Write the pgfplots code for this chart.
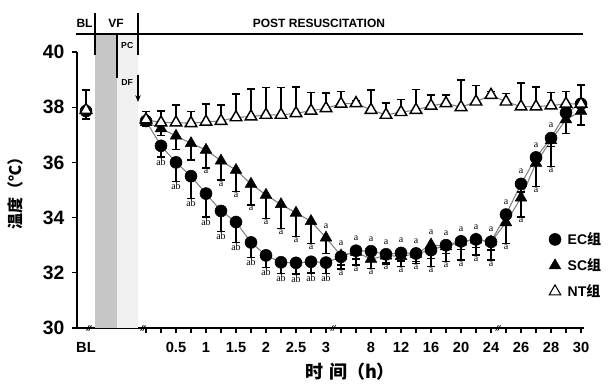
\documentclass[border=0pt]{standalone}
\usepackage{pgfplots}
\pgfplotsset{compat=1.18}
\usepackage{pgfplotstable}
\usepackage{fontspec}
\setmainfont{Liberation Sans}
\newfontfamily\cjk{Noto Sans CJK SC}
\newfontfamily\labserif{Liberation Serif}
\usetikzlibrary{arrows.meta}
\newcommand\labfont{\labserif\fontsize{7.5}{8}\selectfont}

\pgfplotstableread{
x ec ecm sc scm nt ntp
0 37.50 0.15 37.45 0.15 37.55 0.30
1 36.60 0.40 37.23 0.25 37.44 0.42
2 36.00 0.70 36.96 0.50 37.44 0.64
3 35.50 0.80 36.69 0.60 37.42 0.42
4 34.87 0.84 36.45 0.65 37.47 0.65
5 34.24 0.74 36.06 0.70 37.50 0.58
6 33.84 0.74 35.72 0.78 37.63 0.85
7 33.10 0.55 35.22 0.76 37.66 1.00
8 32.63 0.43 34.82 0.85 37.72 1.00
9 32.38 0.40 34.48 0.87 37.72 1.00
10 32.36 0.40 34.17 0.86 37.78 0.96
11 32.40 0.40 33.87 0.80 37.87 0.66
12 32.37 0.40 33.27 0.57 37.96 0.55
13 32.58 0.30 32.62 0.49 38.12 0.44
14 32.80 0.30 32.75 0.47 38.14 0.10
15 32.78 0.30 32.50 0.34 37.90 0.72
16 32.67 0.30 32.62 0.30 37.72 0.44
17 32.72 0.30 32.60 0.38 37.82 0.46
18 32.70 0.30 32.68 0.34 37.90 0.75
19 32.82 0.30 33.02 0.80 38.05 0.39
20 33.00 0.30 32.95 0.55 38.14 0.30
21 33.14 0.30 33.12 0.66 38.00 0.99
22 33.21 0.30 33.20 0.56 38.20 0.58
23 33.12 0.30 33.12 0.66 38.44 0.12
24 34.11 0.30 33.82 0.75 38.20 0.30
25 35.22 0.30 34.72 0.69 38.02 0.85
26 36.18 0.30 35.98 0.86 38.02 0.72
27 36.88 0.30 36.80 0.95 38.06 0.47
28 37.80 0.30 37.55 0.50 38.12 0.44
29 38.12 0.30 37.86 0.50 38.12 0.68
}\maindata

% labels placed at the lower end of the error bars
\pgfplotstableread{
x y l
1 36.20 ab
2 35.30 ab
3 34.70 ab
4 34.03 ab
5 33.50 ab
6 33.10 ab
7 32.55 ab
8 32.20 ab
9 31.98 ab
10 31.96 ab
11 32.00 ab
12 31.97 ab
4 35.80 a
5 35.36 a
6 34.94 a
7 34.46 a
8 33.97 a
9 33.61 a
10 33.31 a
11 33.07 a
13 32.13 a
14 32.28 a
15 32.16 a
16 32.32 a
17 32.22 a
18 32.34 a
19 32.22 a
20 32.40 a
21 32.46 a
22 32.64 a
23 32.46 a
24 33.07 a
25 34.03 a
26 35.12 a
27 35.85 a
}\labbelow

% labels centred above the points
\pgfplotstableread{
x y l
12 33.69 a
13 33.07 a
14 33.25 a
15 33.23 a
16 33.12 a
17 33.17 a
18 33.15 a
19 33.47 a
20 33.45 a
21 33.59 a
22 33.66 a
23 33.57 a
24 34.56 a
25 35.67 a
26 36.63 a
27 37.33 a
}\lababove

\begin{document}
\begin{tikzpicture}
\begin{axis}[
  scale only axis, width=380.25pt, height=207pt,
  xmin=-4.6, xmax=29.2, ymin=30, ymax=40,
  axis x line*=bottom, axis y line*=left,
  axis line style={line width=1pt, black},
  clip=false,
  /pgf/number format/assume math mode=true,
  xtick={0,...,29},
  xticklabels={,,0.5,,1,,1.5,,2,,2.5,,3,,,8,,12,,16,,20,,24,,26,,28,,30},
  extra x ticks={-4}, extra x tick labels={BL},
  extra x tick style={major tick length=0pt, xticklabel style={yshift=-4pt}},
  ytick={30,32,...,40},
  tick align=outside, major tick length=4pt,
  tick style={black, line width=0.8pt},
  x tick label style={font=\bfseries\fontsize{11}{13}\selectfont, yshift=-3pt},
  y tick label style={font=\bfseries\fontsize{14.5}{16}\selectfont, xshift=-2pt},
  legend style={at={(axis cs:26.85,33.57)}, anchor=north west, draw=none, fill=none,
    font=\bfseries\fontsize{10.5}{12}\selectfont, row sep=5pt, inner sep=0pt,
    /tikz/every odd column/.append style={column sep=3pt}},
  legend cell align=left,
  legend image code/.code={\draw[#1] plot coordinates {(0pt,0pt)};},
]
% shaded intervals
\fill[gray!45] (axis cs:-3.4,30) rectangle (axis cs:-1.933,40.652);
\fill[gray!12] (axis cs:-1.933,30) rectangle (axis cs:-0.533,40.652);

% header
\draw[line width=1.1pt] (axis cs:-4.667,40.652) -- (axis cs:29.13,40.652);
\draw[line width=1.1pt] (axis cs:-3.4,41.413) -- (axis cs:-3.4,39.89);
\draw[line width=1.1pt] (axis cs:-0.533,41.413) -- (axis cs:-0.533,39.89);
\draw[line width=1.1pt] (axis cs:-1.933,40.652) -- (axis cs:-1.933,39.058);
\draw[line width=1.1pt, -{Stealth[length=5pt,width=4pt]}] (axis cs:-0.533,39.17) -- (axis cs:-0.533,38.19);
\node[font=\bfseries\fontsize{9}{10}\selectfont] at (axis cs:-4.1,41.03) {BL};
\node[font=\bfseries\fontsize{9}{10}\selectfont] at (axis cs:-2.0,41.03) {VF};
\node[font=\bfseries\fontsize{9}{10}\selectfont] at (axis cs:11.53,41.03) {POST RESUSCITATION};
\node[font=\bfseries\fontsize{6.5}{8}\selectfont] at (axis cs:-1.25,40.25) {PC};
\node[font=\bfseries\fontsize{6.5}{8}\selectfont] at (axis cs:-1.25,38.91) {DF};

% axis breaks
\draw[line width=0.6pt] ([xshift=-1.8pt,yshift=-2pt]axis cs:-3.8,30) -- ([xshift=0.2pt,yshift=2pt]axis cs:-3.8,30);
\draw[line width=0.6pt] ([xshift=-0.2pt,yshift=-2pt]axis cs:-3.8,30) -- ([xshift=1.8pt,yshift=2pt]axis cs:-3.8,30);
\draw[line width=0.6pt] ([xshift=-1.8pt,yshift=-2pt]axis cs:-0.2,30) -- ([xshift=0.2pt,yshift=2pt]axis cs:-0.2,30);
\draw[line width=0.6pt] ([xshift=-0.2pt,yshift=-2pt]axis cs:-0.2,30) -- ([xshift=1.8pt,yshift=2pt]axis cs:-0.2,30);
\draw[line width=0.6pt] ([xshift=-1.8pt,yshift=-2pt]axis cs:12.47,30) -- ([xshift=0.2pt,yshift=2pt]axis cs:12.47,30);
\draw[line width=0.6pt] ([xshift=-0.2pt,yshift=-2pt]axis cs:12.47,30) -- ([xshift=1.8pt,yshift=2pt]axis cs:12.47,30);
\draw[line width=0.6pt] ([xshift=-1.8pt,yshift=-2pt]axis cs:23.47,30) -- ([xshift=0.2pt,yshift=2pt]axis cs:23.47,30);
\draw[line width=0.6pt] ([xshift=-0.2pt,yshift=-2pt]axis cs:23.47,30) -- ([xshift=1.8pt,yshift=2pt]axis cs:23.47,30);

% axis titles
\node[font=\cjk\bfseries\fontsize{13.5}{15}\selectfont] at (axis cs:13.6,28.41) {时\,\,间（h）};
\node[rotate=90, font=\cjk\bfseries\fontsize{12}{14}\selectfont] at (axis cs:-8.73,35.0) {温度（℃）};

% SC
\addplot[forget plot, draw=gray, line width=0.8pt, mark=triangle*, mark size=5pt,
  mark options={solid, fill=black, draw=black, line width=0.4pt},
  error bars/.cd, y dir=minus, y explicit,
  error bar style={black, line width=1.1pt, solid},
  error mark options={rotate=90, black, mark size=3pt, line width=1.1pt}]
  table[x=x, y=sc, y error minus=scm] {\maindata};
% EC
\addplot[forget plot, draw=gray, line width=0.8pt, mark=*, mark size=4.5pt,
  mark options={solid, fill=black, draw=black, line width=0.4pt},
  error bars/.cd, y dir=minus, y explicit,
  error bar style={black, line width=1.1pt, solid},
  error mark options={rotate=90, black, mark size=3pt, line width=1.1pt}]
  table[x=x, y=ec, y error minus=ecm] {\maindata};
% NT
\addplot[forget plot, draw=gray, line width=0.8pt, mark=triangle*, mark size=5pt,
  mark options={solid, fill=white, draw=black, line width=1.1pt},
  error bars/.cd, y dir=plus, y explicit,
  error bar style={black, line width=1.1pt, solid},
  error mark options={rotate=90, black, mark size=3pt, line width=1.1pt}]
  table[x=x, y=nt, y error plus=ntp] {\maindata};

% baseline
\addplot[forget plot, only marks, mark=*, mark size=4.5pt, mark options={fill=black, draw=black}]
  coordinates {(-4,37.86)};
\addplot[forget plot, only marks, mark=triangle*, mark size=5pt,
  mark options={solid, fill=white, draw=black, line width=1.1pt},
  error bars/.cd, y dir=both, y explicit,
  error bar style={black, line width=1.1pt, solid},
  error mark options={rotate=90, black, mark size=3pt, line width=1.1pt}]
  coordinates {(-4,37.9) += (0,0.72) -= (0,0.33)};

% significance labels
\addplot[forget plot, only marks, mark=none, nodes near coords, point meta=explicit symbolic,
  nodes near coords style={font=\labfont, anchor=north, inner sep=0.8pt, text=black}]
  table[x=x, y=y, meta=l] {\labbelow};
\addplot[forget plot, only marks, mark=none, nodes near coords, point meta=explicit symbolic,
  nodes near coords style={font=\labfont, anchor=center, inner sep=0pt, text=black}]
  table[x=x, y=y, meta=l] {\lababove};

% legend
\addlegendimage{mark=*, mark size=4.5pt, mark options={fill=black, draw=black}}
\addlegendentry{EC{\cjk\bfseries 组}}
\addlegendimage{mark=triangle*, mark size=5pt, mark options={fill=black, draw=black}}
\addlegendentry{SC{\cjk\bfseries 组}}
\addlegendimage{mark=triangle*, mark size=5pt, mark options={fill=white, draw=black, line width=0.8pt}}
\addlegendentry{NT{\cjk\bfseries 组}}

\coordinate (bbll) at (axis cs:-9.7333,27.971);
\coordinate (bbur) at (axis cs:30.8667,41.884);
\end{axis}
\pgfresetboundingbox
\path (bbll) rectangle (bbur);
\end{tikzpicture}
\end{document}
